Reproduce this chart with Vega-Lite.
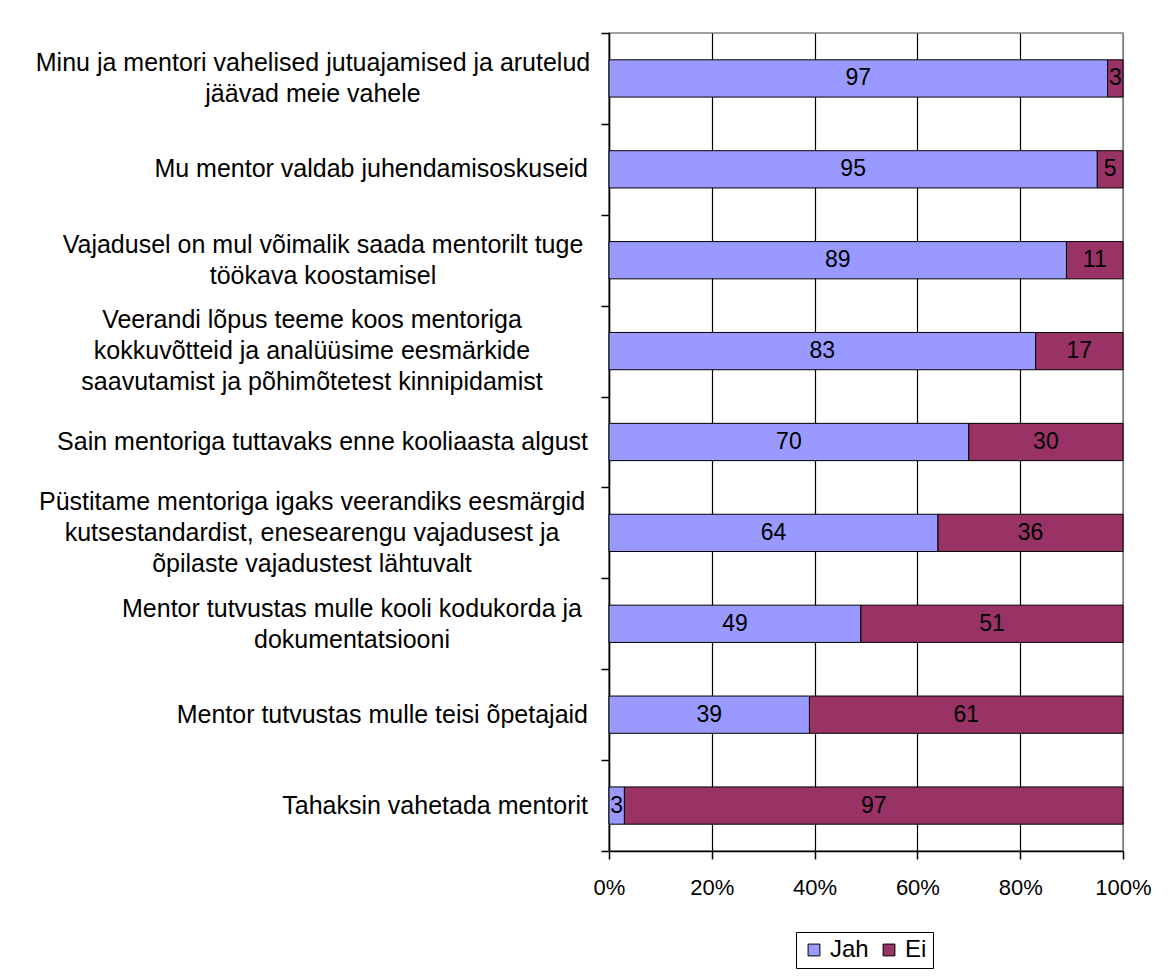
{
  "$schema": "https://vega.github.io/schema/vega-lite/v6.json",
  "width": 514,
  "height": 818,
  "autosize": {"type": "none"},
  "padding": {"left": 609, "top": 33, "right": 50, "bottom": 127},
  "config": {
    "font": "Liberation Sans",
    "view": {"stroke": "#808080", "strokeWidth": 1.5},
    "axis": {"labelColor": "black", "labelFont": "Liberation Sans"}
  },
  "data": {
    "values": [
      {"item": "Minu ja mentori vahelised jutuajamised ja arutelud|jäävad meie vahele", "series": "Jah", "value": 97},
      {"item": "Minu ja mentori vahelised jutuajamised ja arutelud|jäävad meie vahele", "series": "Ei", "value": 3},
      {"item": "Mu mentor valdab juhendamisoskuseid", "series": "Jah", "value": 95},
      {"item": "Mu mentor valdab juhendamisoskuseid", "series": "Ei", "value": 5},
      {"item": "Vajadusel on mul võimalik saada mentorilt tuge|töökava koostamisel", "series": "Jah", "value": 89},
      {"item": "Vajadusel on mul võimalik saada mentorilt tuge|töökava koostamisel", "series": "Ei", "value": 11},
      {"item": "Veerandi lõpus teeme koos mentoriga|kokkuvõtteid ja analüüsime eesmärkide|saavutamist ja põhimõtetest kinnipidamist", "series": "Jah", "value": 83},
      {"item": "Veerandi lõpus teeme koos mentoriga|kokkuvõtteid ja analüüsime eesmärkide|saavutamist ja põhimõtetest kinnipidamist", "series": "Ei", "value": 17},
      {"item": "Sain mentoriga tuttavaks enne kooliaasta algust", "series": "Jah", "value": 70},
      {"item": "Sain mentoriga tuttavaks enne kooliaasta algust", "series": "Ei", "value": 30},
      {"item": "Püstitame mentoriga igaks veerandiks eesmärgid|kutsestandardist, enesearengu vajadusest ja|õpilaste vajadustest lähtuvalt", "series": "Jah", "value": 64},
      {"item": "Püstitame mentoriga igaks veerandiks eesmärgid|kutsestandardist, enesearengu vajadusest ja|õpilaste vajadustest lähtuvalt", "series": "Ei", "value": 36},
      {"item": "Mentor tutvustas mulle kooli kodukorda ja|dokumentatsiooni", "series": "Jah", "value": 49},
      {"item": "Mentor tutvustas mulle kooli kodukorda ja|dokumentatsiooni", "series": "Ei", "value": 51},
      {"item": "Mentor tutvustas mulle teisi õpetajaid", "series": "Jah", "value": 39},
      {"item": "Mentor tutvustas mulle teisi õpetajaid", "series": "Ei", "value": 61},
      {"item": "Tahaksin vahetada mentorit", "series": "Jah", "value": 3},
      {"item": "Tahaksin vahetada mentorit", "series": "Ei", "value": 97}
    ]
  },
  "encoding": {
    "y": {
      "field": "item", "type": "nominal", "sort": null,
      "scale": {"paddingInner": 0, "paddingOuter": 0},
      "axis": {
        "title": null,
        "labels": false,
        "tickBand": "extent",
        "tickSize": 8,
        "tickColor": "black",
        "tickWidth": 1.5,
        "domainColor": "black",
        "domainWidth": 1.5,
        "grid": false
      }
    }
  },
  "layer": [
    {
      "mark": {"type": "bar", "height": {"band": 0.41}, "stroke": "black", "strokeWidth": 1},
      "encoding": {
        "x": {
          "field": "value", "type": "quantitative", "stack": "zero",
          "scale": {"domain": [0, 100], "nice": false},
          "axis": {
            "title": null,
            "values": [0, 20, 40, 60, 80, 100],
            "labelExpr": "datum.value + '%'",
            "labelFlush": false,
            "labelFontSize": 22,
            "labelPadding": 18,
            "tickSize": 8,
            "tickColor": "black",
            "tickWidth": 1.5,
            "domainColor": "black",
            "domainWidth": 1.5,
            "grid": true,
            "gridColor": {"condition": {"test": "datum.value == 100", "value": "#808080"}, "value": "black"},
            "gridWidth": 1.2,
            "gridOpacity": 1
          }
        },
        "order": {"field": "series", "sort": "descending"},
        "color": {
          "field": "series", "type": "nominal",
          "scale": {"domain": ["Jah", "Ei"], "range": ["#9999FF", "#993366"]},
          "legend": {
            "title": null,
            "orient": "none",
            "legendX": 187,
            "legendY": 899,
            "direction": "horizontal",
            "strokeColor": "black",
            "padding": 6,
            "symbolType": "square",
            "symbolSize": 140,
            "symbolStrokeColor": "black",
            "symbolStrokeWidth": 1,
            "symbolOpacity": 1,
            "labelFontSize": 24,
            "labelColor": "black",
            "labelOffset": 4,
            "columnPadding": 8
          }
        }
      }
    },
    {
      "mark": {"type": "text", "fontSize": 23, "color": "black", "baseline": "middle", "align": "center"},
      "encoding": {
        "x": {"field": "value", "type": "quantitative", "stack": "zero", "bandPosition": 0.5},
        "order": {"field": "series", "sort": "descending"},
        "detail": {"field": "series"},
        "text": {"field": "value", "type": "quantitative"}
      }
    },
    {
      "transform": [{"filter": "indexof(datum.item, '|') < 0 && datum.series == 'Jah'"}],
      "mark": {"type": "text", "fontSize": 25, "color": "black", "baseline": "middle", "align": "right", "dx": -21},
      "encoding": {
        "x": {"datum": 0, "type": "quantitative"},
        "text": {"field": "item"}
      }
    },
    {
      "transform": [{"filter": "indexof(datum.item, 'Minu') == 0 && datum.series == 'Jah'"}],
      "mark": {"type": "text", "fontSize": 25, "lineHeight": 31, "lineBreak": "|", "color": "black", "baseline": "middle", "align": "center", "dx": -296, "dy": -15},
      "encoding": {
        "x": {"datum": 0, "type": "quantitative"},
        "text": {"field": "item"}
      }
    },
    {
      "transform": [{"filter": "indexof(datum.item, 'Vajadusel') == 0 && datum.series == 'Jah'"}],
      "mark": {"type": "text", "fontSize": 25, "lineHeight": 31, "lineBreak": "|", "color": "black", "baseline": "middle", "align": "center", "dx": -286, "dy": -15},
      "encoding": {
        "x": {"datum": 0, "type": "quantitative"},
        "text": {"field": "item"}
      }
    },
    {
      "transform": [{"filter": "indexof(datum.item, 'Mentor tutvustas mulle kooli') == 0 && datum.series == 'Jah'"}],
      "mark": {"type": "text", "fontSize": 25, "lineHeight": 31, "lineBreak": "|", "color": "black", "baseline": "middle", "align": "center", "dx": -257, "dy": -15},
      "encoding": {
        "x": {"datum": 0, "type": "quantitative"},
        "text": {"field": "item"}
      }
    },
    {
      "transform": [{"filter": "(indexof(datum.item, 'Veerandi') == 0 || indexof(datum.item, 'Püstitame') == 0) && datum.series == 'Jah'"}],
      "mark": {"type": "text", "fontSize": 25, "lineHeight": 31, "lineBreak": "|", "color": "black", "baseline": "middle", "align": "center", "dx": -297, "dy": -31},
      "encoding": {
        "x": {"datum": 0, "type": "quantitative"},
        "text": {"field": "item"}
      }
    }
  ]
}
